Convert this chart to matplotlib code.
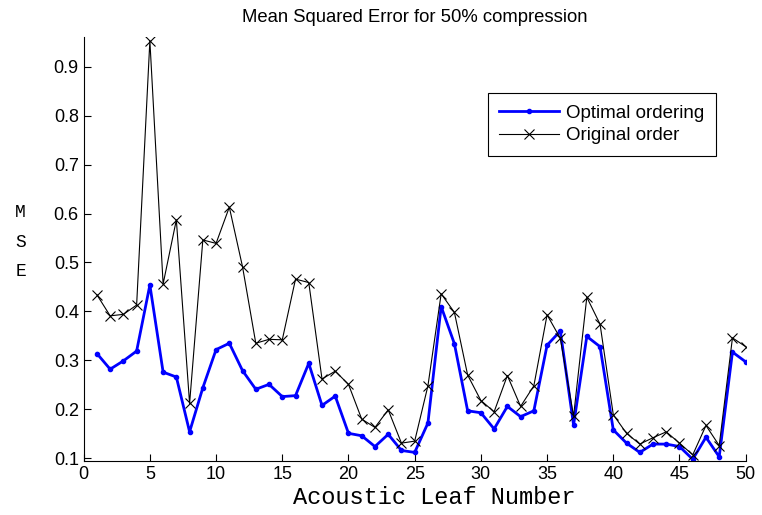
import numpy as np
import matplotlib
matplotlib.use("Agg")
import matplotlib.pyplot as plt

# MSE per acoustic leaf, 50% compression
leaf = np.arange(1, 51)
optimal = [0.314, 0.282, 0.299, 0.319, 0.454, 0.276, 0.266, 0.154, 0.244, 0.322,
           0.335, 0.279, 0.241, 0.251, 0.226, 0.228, 0.294, 0.208, 0.227, 0.151,
           0.146, 0.124, 0.149, 0.116, 0.112, 0.172, 0.410, 0.334, 0.197, 0.193,
           0.160, 0.206, 0.185, 0.197, 0.331, 0.360, 0.168, 0.349, 0.328, 0.158,
           0.131, 0.112, 0.129, 0.129, 0.124, 0.098, 0.143, 0.103, 0.317, 0.297]
original = [0.434, 0.391, 0.394, 0.413, 0.953, 0.456, 0.587, 0.212, 0.546, 0.539,
            0.613, 0.491, 0.335, 0.343, 0.342, 0.466, 0.459, 0.262, 0.278, 0.251,
            0.180, 0.163, 0.199, 0.131, 0.135, 0.248, 0.436, 0.398, 0.270, 0.218,
            0.195, 0.269, 0.206, 0.248, 0.393, 0.345, 0.186, 0.429, 0.374, 0.189,
            0.151, 0.129, 0.142, 0.154, 0.131, 0.107, 0.167, 0.126, 0.346, 0.328]

plt.rcParams['font.family'] = ['Liberation Sans', 'DejaVu Sans']

fig = plt.figure(figsize=(7.62, 5.15), dpi=100)
ax = fig.add_axes([0.1098, 0.1049, 0.8688, 0.8227])

ax.plot(leaf, optimal, color='#0000ff', lw=2, marker='.', ms=6, label='Optimal ordering')
ax.plot(leaf, original, color='black', lw=0.8, marker='x', ms=7, mew=0.8, label='Original order')

ax.set_xlim(0, 50)
ax.set_ylim(0.0945, 0.96)
ax.set_xticks(np.arange(0, 51, 5))
ax.set_yticks(np.arange(0.1, 0.95, 0.1))
ax.set_yticklabels(['%.1f' % v for v in np.arange(0.1, 0.95, 0.1)])
ax.tick_params(direction='in', labelsize=13, length=5, width=0.8)
ax.spines['top'].set_visible(False)
ax.spines['right'].set_visible(False)

ax.set_title('Mean Squared Error for 50% compression', fontsize=13.3, pad=11)
ax.set_xlabel('Acoustic Leaf Number', family='Liberation Mono', fontsize=17)
ax.xaxis.set_label_coords(0.53, -0.058)
fig.text(0.027, 0.53, 'M\nS\nE', family='Liberation Mono', fontsize=13,
         ha='center', va='center', linespacing=1.95)

leg = ax.legend(loc='upper right', bbox_to_anchor=(0.955, 0.868), borderaxespad=0,
                fontsize=13.5, fancybox=False, edgecolor='black', framealpha=1,
                handlelength=3.2, handletextpad=0.4, borderpad=0.6, labelspacing=0.3)
leg.get_frame().set_linewidth(0.8)

fig.savefig('out.png', dpi=100)
